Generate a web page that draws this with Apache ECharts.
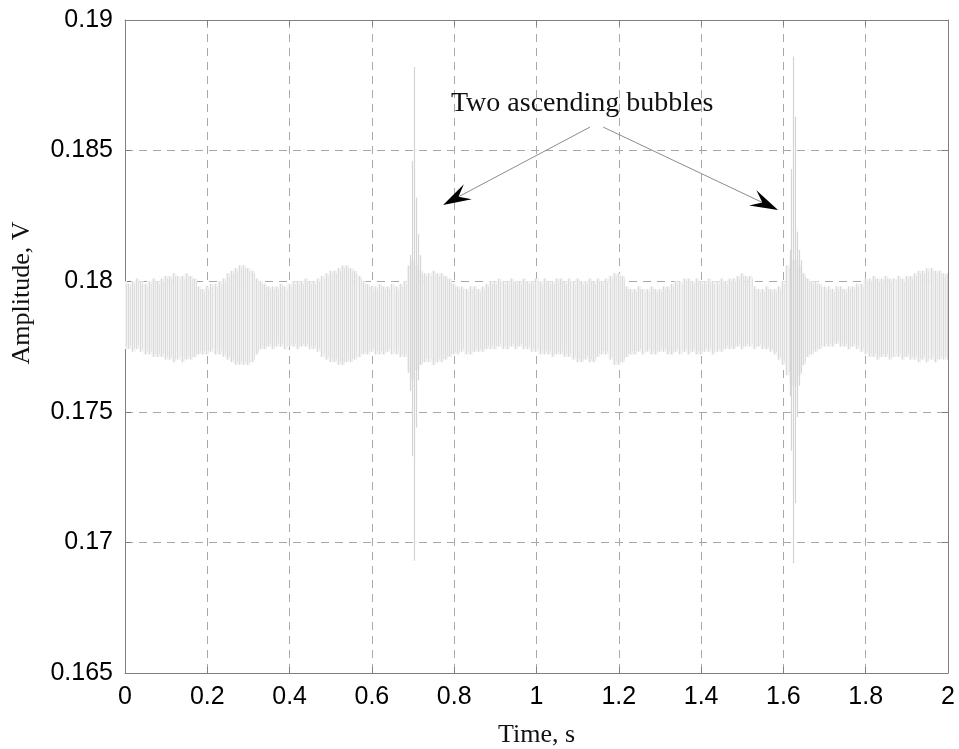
<!DOCTYPE html>
<html>
<head>
<meta charset="utf-8">
<script src="https://cdn.jsdelivr.net/npm/echarts@6/dist/echarts.min.js"></script>
<style>html,body{margin:0;padding:0;background:#fff}#c{width:959px;height:749px}</style>
</head>
<body>
<div id="c"></div>
<script>
// ---- data ----
var sampleStep = 0.01; // seconds between envelope samples
var envHigh = [
0.1800,0.1799,0.1800,0.1801,0.1800,0.1799,0.1800,0.1801,0.1800,0.1801,
0.1802,0.1802,0.1803,0.1802,0.1802,0.1803,0.1802,0.1801,0.1798,0.1797,
0.1798,0.1799,0.1799,0.1800,0.1801,0.1803,0.1804,0.1805,0.1806,0.1806,
0.1805,0.1804,0.1801,0.1800,0.1799,0.1798,0.1798,0.1798,0.1799,0.1798,
0.1799,0.1800,0.1800,0.1800,0.1801,0.1800,0.1800,0.1801,0.1802,0.1803,
0.1804,0.1804,0.1805,0.1806,0.1806,0.1805,0.1804,0.1802,0.1800,0.1799,
0.1798,0.1798,0.1799,0.1798,0.1798,0.1799,0.1798,0.1799,0.1800,0.1806,
0.1808,0.1806,0.1804,0.1803,0.1803,0.1804,0.1803,0.1803,0.1802,0.1801,
0.1799,0.1798,0.1798,0.1797,0.1798,0.1798,0.1797,0.1798,0.1799,0.1800,
0.1800,0.1801,0.1800,0.1800,0.1801,0.1800,0.1800,0.1801,0.1800,0.1800,
0.1801,0.1800,0.1801,0.1800,0.1800,0.1801,0.1801,0.1800,0.1801,0.1800,
0.1801,0.1800,0.1800,0.1801,0.1800,0.1801,0.1800,0.1801,0.1802,0.1803,
0.1803,0.1802,0.1798,0.1797,0.1797,0.1798,0.1797,0.1797,0.1798,0.1797,
0.1797,0.1798,0.1798,0.1799,0.1800,0.1800,0.1801,0.1801,0.1800,0.1801,
0.1800,0.1800,0.1801,0.1800,0.1800,0.1801,0.1800,0.1801,0.1801,0.1802,
0.1803,0.1802,0.1802,0.1798,0.1797,0.1797,0.1798,0.1797,0.1797,0.1798,
0.1800,0.1806,0.1808,0.1808,0.1806,0.1803,0.1801,0.1800,0.1800,0.1799,
0.1798,0.1798,0.1797,0.1798,0.1798,0.1797,0.1798,0.1798,0.1799,0.1799,
0.1801,0.1801,0.1802,0.1801,0.1801,0.1802,0.1801,0.1801,0.1802,0.1801,
0.1802,0.1802,0.1803,0.1804,0.1804,0.1805,0.1805,0.1804,0.1804,0.1803,
0.1803];
var envLow = [
0.1774,0.1774,0.1773,0.1774,0.1773,0.1772,0.1772,0.1771,0.1771,0.1771,
0.1770,0.1770,0.1769,0.1770,0.1769,0.1770,0.1770,0.1771,0.1772,0.1772,
0.1772,0.1773,0.1772,0.1772,0.1771,0.1770,0.1769,0.1768,0.1768,0.1768,
0.1768,0.1769,0.1772,0.1774,0.1774,0.1775,0.1774,0.1775,0.1775,0.1774,
0.1775,0.1775,0.1774,0.1775,0.1775,0.1774,0.1774,0.1773,0.1771,0.1770,
0.1769,0.1769,0.1768,0.1768,0.1769,0.1769,0.1770,0.1771,0.1772,0.1772,
0.1773,0.1772,0.1772,0.1772,0.1773,0.1772,0.1772,0.1771,0.1771,0.1765,
0.1762,0.1766,0.1768,0.1769,0.1769,0.1768,0.1769,0.1769,0.1770,0.1771,
0.1772,0.1772,0.1773,0.1772,0.1772,0.1773,0.1773,0.1773,0.1774,0.1774,
0.1774,0.1775,0.1774,0.1774,0.1775,0.1774,0.1775,0.1774,0.1774,0.1773,
0.1773,0.1772,0.1772,0.1772,0.1771,0.1772,0.1772,0.1771,0.1771,0.1770,
0.1769,0.1769,0.1770,0.1769,0.1769,0.1771,0.1772,0.1772,0.1770,0.1768,
0.1768,0.1769,0.1771,0.1772,0.1772,0.1773,0.1772,0.1773,0.1772,0.1772,
0.1773,0.1773,0.1772,0.1772,0.1773,0.1772,0.1773,0.1772,0.1773,0.1772,
0.1772,0.1773,0.1773,0.1772,0.1773,0.1773,0.1774,0.1774,0.1774,0.1775,
0.1774,0.1775,0.1775,0.1774,0.1775,0.1774,0.1774,0.1773,0.1772,0.1770,
0.1768,0.1764,0.1760,0.1760,0.1764,0.1768,0.1771,0.1772,0.1773,0.1774,
0.1775,0.1775,0.1775,0.1776,0.1775,0.1775,0.1774,0.1775,0.1774,0.1773,
0.1772,0.1771,0.1771,0.1770,0.1771,0.1771,0.1770,0.1771,0.1771,0.1770,
0.1771,0.1770,0.1770,0.1769,0.1770,0.1769,0.1770,0.1769,0.1770,0.1770,
0.1770];
// bubble spikes: time, max, min
var spikeTime = [0.692, 0.697, 0.702, 0.707, 0.712, 0.717, 1.615, 1.619, 1.623, 1.627, 1.632, 1.637, 1.642];
var spikeHigh = [0.1810, 0.1846, 0.1882, 0.1832, 0.1818, 0.1810, 0.1812, 0.1843, 0.1886, 0.1863, 0.1819, 0.1812, 0.1808];
var spikeLow  = [0.1758, 0.1733, 0.1693, 0.1744, 0.1762, 0.1768, 0.1756, 0.1735, 0.1692, 0.1715, 0.1748, 0.1760, 0.1765];
// annotation (data coordinates)
var noteText = "Two ascending bubbles";
var notePos = [1.111, 0.18678];
var arrowFrom = [[1.130, 0.1859], [1.162, 0.1859]];
var arrowTo = [[0.773, 0.18292], [1.587, 0.18273]];
var xTicks = {min: 0, max: 2, step: 0.2};
var yTicks = {min: 0.165, max: 0.19, step: 0.005};
var xName = "Time, s";
var yName = "Amplitude, V";

// ---- build ----
var bandData = envHigh.map(function (h, i) { return [i * sampleStep, envLow[i], h]; });
var spikeData = spikeTime.map(function (t, i) { return [t, spikeLow[i], spikeHigh[i]]; });

var chart = echarts.init(document.getElementById('c'), null, {renderer: 'canvas'});
var gridCol = '#a8a8a8', axisCol = '#808080';
var lblFont = {color: '#000', fontFamily: 'Liberation Sans, Arial, sans-serif', fontSize: 25};
function fmt(d) { return function (v) { return String(parseFloat(v.toFixed(d))); }; }

var option = {
  animation: false,
  backgroundColor: '#fff',
  grid: {left: 125, right: 11, top: 20, bottom: 76, containLabel: false},
  xAxis: [{
    type: 'value', min: xTicks.min, max: xTicks.max, interval: xTicks.step,
    axisLine: {show: true, lineStyle: {color: axisCol, width: 1}},
    axisTick: {show: true, inside: true, length: 6, lineStyle: {color: axisCol}},
    axisLabel: Object.assign({margin: 12, formatter: fmt(1)}, lblFont),
    splitLine: {show: true, lineStyle: {color: gridCol, type: [8, 6], width: 1}}
  }, {
    type: 'value', position: 'top', min: xTicks.min, max: xTicks.max, interval: xTicks.step,
    axisLine: {show: true, onZero: false, lineStyle: {color: axisCol, width: 1}},
    axisTick: {show: true, inside: true, length: 6, lineStyle: {color: axisCol}},
    axisLabel: {show: false}, splitLine: {show: false}
  }],
  yAxis: [{
    type: 'value', min: yTicks.min, max: yTicks.max, interval: yTicks.step,
    axisLine: {show: true, lineStyle: {color: axisCol, width: 1}},
    axisTick: {show: true, inside: true, length: 6, lineStyle: {color: axisCol}},
    axisLabel: Object.assign({margin: 12, formatter: fmt(3)}, lblFont),
    splitLine: {show: true, lineStyle: {color: gridCol, type: [8, 6], width: 1}}
  }, {
    type: 'value', position: 'right', min: yTicks.min, max: yTicks.max, interval: yTicks.step,
    axisLine: {show: true, onZero: false, lineStyle: {color: axisCol, width: 1}},
    axisTick: {show: true, inside: true, length: 6, lineStyle: {color: axisCol}},
    axisLabel: {show: false}, splitLine: {show: false}
  }],
  series: [{
    type: 'custom', name: 'signal', xAxisIndex: 0, yAxisIndex: 0, clip: true, z: 3,
    data: bandData,
    encode: {x: 0, y: [1, 2]},
    renderItem: function (params, api) {
      var t = api.value(0);
      var p1 = api.coord([t, api.value(1)]);
      var p2 = api.coord([t, api.value(2)]);
      var w = api.size([sampleStep, 0])[0];
      return {type: 'group', children: [
        {type: 'rect', shape: {x: p1[0] - w / 2, y: p2[1], width: w, height: p1[1] - p2[1]},
         style: {fill: '#f1f1f1'}},
        {type: 'line', shape: {x1: Math.round(p1[0] - w / 4) + 0.5, y1: p1[1], x2: Math.round(p1[0] - w / 4) + 0.5, y2: p2[1]},
         style: {stroke: '#dadada', lineWidth: 1}},
        {type: 'line', shape: {x1: Math.round(p1[0] + w / 4) + 0.5, y1: p1[1] - 3, x2: Math.round(p1[0] + w / 4) + 0.5, y2: p2[1] + 3},
         style: {stroke: '#dfdfdf', lineWidth: 1}}
      ]};
    }
  }, {
    type: 'custom', name: 'spikes', xAxisIndex: 0, yAxisIndex: 0, clip: true, z: 4,
    data: spikeData,
    encode: {x: 0, y: [1, 2]},
    renderItem: function (params, api) {
      var t = api.value(0);
      var p1 = api.coord([t, api.value(1)]);
      var p2 = api.coord([t, api.value(2)]);
      var x = Math.round(p1[0]) + 0.5;
      return {type: 'line', shape: {x1: x, y1: p1[1], x2: x, y2: p2[1]},
        style: {stroke: '#d4d4d4', lineWidth: 1.2}};
    }
  }]
};
chart.setOption(option);

function px(p) { return chart.convertToPixel({xAxisIndex: 0, yAxisIndex: 0}, p); }
var graphics = [];
var np = px(notePos);
graphics.push({type: 'text', x: np[0], y: np[1], z: 10,
  style: {text: noteText, fill: '#111', font: '28px "Liberation Serif", "DejaVu Serif", serif', textAlign: 'center', textVerticalAlign: 'middle'}});
for (var i = 0; i < arrowFrom.length; i++) {
  var a = px(arrowFrom[i]), b = px(arrowTo[i]);
  var dx = b[0] - a[0], dy = b[1] - a[1], len = Math.sqrt(dx * dx + dy * dy);
  var ux = dx / len, uy = dy / len, nx = -uy, ny = ux;
  var L = 28, W = 8.5;
  graphics.push({type: 'line', z: 10, shape: {x1: a[0], y1: a[1], x2: b[0] - ux * L * 0.6, y2: b[1] - uy * L * 0.6},
    style: {stroke: '#8c8c8c', lineWidth: 1}});
  graphics.push({type: 'polygon', z: 11, shape: {points: [
      [b[0], b[1]],
      [b[0] - ux * L + nx * W, b[1] - uy * L + ny * W],
      [b[0] - ux * L * 0.62, b[1] - uy * L * 0.62],
      [b[0] - ux * L - nx * W, b[1] - uy * L - ny * W]]},
    style: {fill: '#000'}});
}
var g0 = px([xTicks.min, yTicks.min]), g1 = px([xTicks.max, yTicks.max]);
graphics.push({type: 'text', x: (g0[0] + g1[0]) / 2, y: 735, z: 10,
  style: {text: xName, fill: '#111', font: '26px "Liberation Serif", "DejaVu Serif", serif', textAlign: 'center', textVerticalAlign: 'middle'}});
graphics.push({type: 'text', x: 22, y: 293, rotation: Math.PI / 2, z: 10,
  style: {text: yName, fill: '#111', font: '26px "Liberation Serif", "DejaVu Serif", serif', textAlign: 'center', textVerticalAlign: 'middle'}});
chart.setOption({graphic: graphics});
</script>
</body>
</html>
